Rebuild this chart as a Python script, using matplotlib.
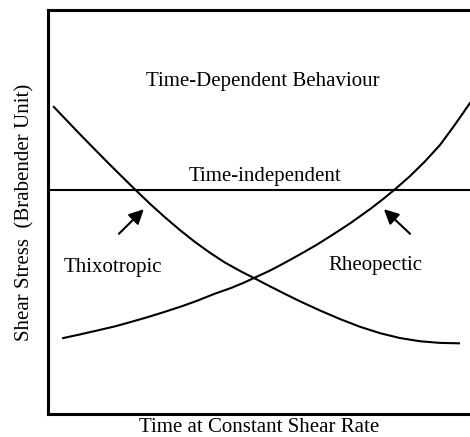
import matplotlib.pyplot as plt

plt.rcParams['font.family'] = ['Liberation Serif', 'DejaVu Serif']

# curves (arbitrary units, 0-100 on both axes)
thixo_x = [1.4, 4.5, 7.8, 10.9, 14.2, 17.3, 20.6, 24.2, 27.7, 31.3, 34.8, 38.4, 41.9,
           45.7, 49.3, 52.6, 56.2, 59.7, 64.5, 69.2, 73.9, 78.7, 83.4, 88.2, 92.9, 97.4]
thixo_y = [76.0, 72.6, 69.0, 65.7, 62.2, 59.0, 55.6, 52.0, 48.7, 45.5, 42.6, 39.9, 37.5,
           35.3, 33.4, 31.6, 29.7, 27.9, 25.6, 23.5, 21.6, 20.0, 18.8, 18.0, 17.6, 17.5]

rheo_x = [3.6, 7.6, 11.8, 15.9, 19.7, 23.7, 27.7, 31.8, 35.5, 39.6, 43.4, 46.4, 49.3, 52.6,
          55.7, 59.7, 63.7, 67.5, 71.6, 76.3, 79.4, 82.2, 85.8, 89.3, 92.9, 96.0, 98.3, 100.0]
rheo_y = [18.8, 19.7, 20.7, 21.7, 22.8, 24.0, 25.3, 26.7, 28.1, 29.8, 31.2, 32.5, 33.9, 35.5,
          37.2, 39.5, 41.9, 44.4, 47.2, 50.7, 53.2, 55.6, 58.9, 62.5, 66.6, 71.0, 74.4, 77.0]

indep_y = 55.4

fig = plt.figure(figsize=(4.7, 4.37), dpi=100)
ax = fig.add_axes([48 / 470, 23 / 437, 422 / 470, 404 / 437])

ax.plot(thixo_x, thixo_y, color='black', lw=1.5)
ax.plot(rheo_x, rheo_y, color='black', lw=1.5)
ax.axhline(indep_y, color='black', lw=1.5)

# arrows pointing at the curves
arr = dict(arrowstyle='-|>', color='black', lw=1.5, mutation_scale=22,
           shrinkA=0, shrinkB=0)
ax.annotate('', xy=(22.7, 50.7), xytext=(16.8, 44.6), arrowprops=arr)
ax.annotate('', xy=(79.6, 50.7), xytext=(85.8, 44.6), arrowprops=arr)

ax.text(50.9, 82.2, 'Time-Dependent Behaviour', ha='center', va='center', fontsize=15)
ax.text(51.4, 58.7, 'Time-independent', ha='center', va='center', fontsize=15)
ax.text(15.4, 36.2, 'Thixotropic', ha='center', va='center', fontsize=15)
ax.text(77.6, 36.7, 'Rheopectic', ha='center', va='center', fontsize=15)

ax.set_xlim(0, 100)
ax.set_ylim(0, 100)
ax.set_xticks([])
ax.set_yticks([])
ax.spines['right'].set_visible(False)
for s in ['left', 'top', 'bottom']:
    ax.spines[s].set_linewidth(2.2)

ax.set_xlabel('Time at Constant Shear Rate', fontsize=15)
ax.set_ylabel('Shear Stress  (Brabender Unit)', fontsize=15)
ax.xaxis.set_label_coords(0.5, -0.011)
ax.yaxis.set_label_coords(-0.033, 0.5)

fig.savefig('out.png', dpi=100)
